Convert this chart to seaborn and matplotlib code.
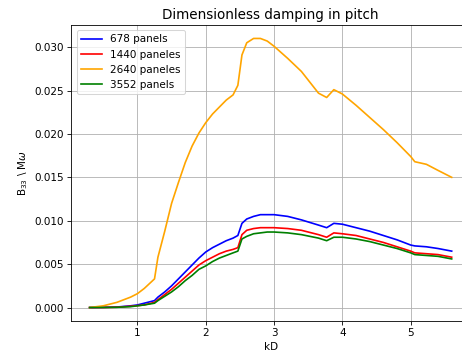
import numpy as np
import pandas as pd
import matplotlib
matplotlib.use("Agg")
import matplotlib.pyplot as plt
import seaborn as sns

kD = [0.3, 0.5, 0.7, 0.9, 1.0, 1.1, 1.25, 1.3, 1.4, 1.5, 1.6, 1.7, 1.8, 1.9, 2.0,
      2.1, 2.2, 2.3, 2.4, 2.47, 2.53, 2.6, 2.7, 2.8, 2.9, 3.0, 3.2, 3.4, 3.65, 3.77,
      3.875, 4.0, 4.2, 4.4, 4.6, 4.8, 5.0, 5.06, 5.23, 5.4, 5.6]

b_678 = [0.0, 0.00002, 0.00006, 0.0002, 0.0003, 0.0005, 0.0008, 0.0012, 0.0018, 0.0025,
         0.0033, 0.0041, 0.0049, 0.0057, 0.0064, 0.0069, 0.0073, 0.0077, 0.0080, 0.0083,
         0.0097, 0.0102, 0.0105, 0.0107, 0.0107, 0.0107, 0.0105, 0.0101, 0.0095, 0.0092,
         0.0097, 0.0096, 0.0092, 0.0088, 0.0083, 0.0078, 0.0072, 0.0071, 0.0070, 0.0068, 0.0065]

b_1440 = [0.0, 0.00001, 0.00004, 0.00015, 0.00022, 0.0003, 0.0006, 0.0009, 0.0015, 0.0021,
          0.0028, 0.0035, 0.0042, 0.0049, 0.0054, 0.0058, 0.0062, 0.0065, 0.0067, 0.0069,
          0.0084, 0.0089, 0.0091, 0.0092, 0.0092, 0.0092, 0.0091, 0.0089, 0.0084, 0.0081,
          0.0086, 0.0085, 0.0083, 0.0079, 0.0075, 0.0070, 0.0065, 0.0063, 0.0062, 0.0061, 0.0058]

b_2640 = [0.0, 0.0002, 0.0006, 0.0012, 0.0016, 0.0022, 0.0033, 0.0058, 0.0088, 0.0120,
          0.0144, 0.0167, 0.0186, 0.0201, 0.0213, 0.0223, 0.0231, 0.0239, 0.0245, 0.0256,
          0.0291, 0.0305, 0.0310, 0.0310, 0.0307, 0.0301, 0.0287, 0.0272, 0.0247, 0.0242,
          0.0251, 0.0246, 0.0233, 0.0219, 0.0205, 0.0190, 0.0174, 0.0168, 0.0165, 0.0158, 0.0150]

b_3552 = [0.0, 0.00001, 0.00003, 0.0001, 0.0002, 0.0003, 0.0005, 0.0008, 0.0013, 0.0018,
          0.0024, 0.0031, 0.0037, 0.0044, 0.0048, 0.0053, 0.0057, 0.0060, 0.0063, 0.0065,
          0.0079, 0.0082, 0.0085, 0.0086, 0.0087, 0.0087, 0.0086, 0.0084, 0.0080, 0.0077,
          0.0081, 0.0081, 0.0079, 0.0076, 0.0072, 0.0068, 0.0063, 0.0061, 0.0060, 0.0059, 0.0056]

labels = ["678 panels", "1440 paneles", "2640 paneles", "3552 panels"]
colors = ["blue", "red", "orange", "green"]
series = [b_678, b_1440, b_2640, b_3552]

frames = [pd.DataFrame({"kD": kD, "B": s, "mesh": lab}) for s, lab in zip(series, labels)]
df = pd.concat(frames, ignore_index=True)

plt.rcdefaults()
plt.rcParams['font.family'] = ['DejaVu Sans']

DPI = 75
fig = plt.figure(figsize=(463 / DPI, 358 / DPI), dpi=DPI)
ax = fig.add_axes([71.5 / 463, 1 - 321 / 358, (469.8 - 71.5) / 463, (321 - 25) / 358])

sns.lineplot(data=df, x="kD", y="B", hue="mesh", hue_order=labels,
             palette=dict(zip(labels, colors)), ax=ax, linewidth=1.6, sort=False)

ax.grid(True)
ax.set_axisbelow(True)
ax.set_title("Dimensionless damping in pitch", fontsize=13)
ax.set_xlabel("kD")
ax.set_ylabel(r"B$_{33}$ \ M$\omega$")
ax.set_yticks([0.0, 0.005, 0.010, 0.015, 0.020, 0.025, 0.030])
ax.yaxis.set_major_formatter(matplotlib.ticker.FormatStrFormatter('%.3f'))
ax.set_xticks([1, 2, 3, 4, 5])
ax.legend(loc="upper left", title=None)

fig.savefig("out.png", dpi=DPI)
